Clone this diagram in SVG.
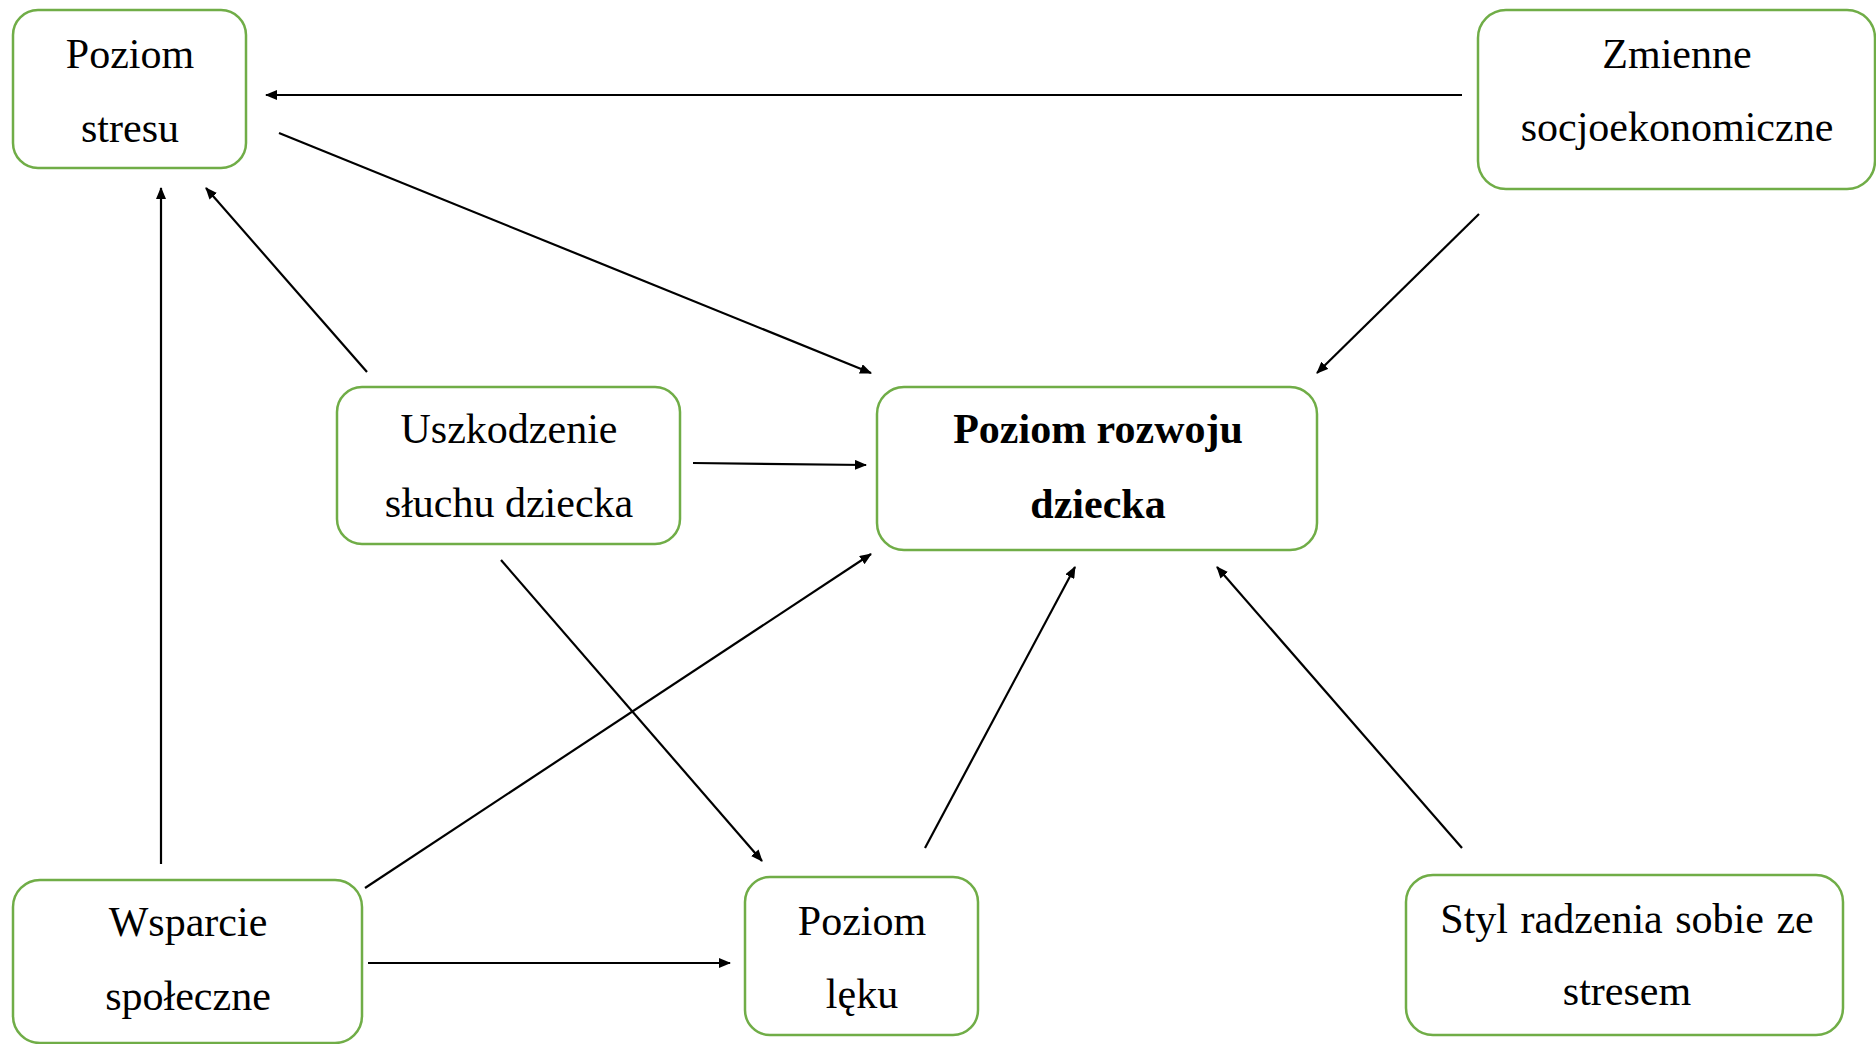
<svg xmlns="http://www.w3.org/2000/svg" width="1876" height="1044" viewBox="0 0 1876 1044">
<style>
.box{fill:#fff;stroke:#70AD47;stroke-width:2.5}
.t{font-family:"Liberation Serif","Times New Roman",serif;font-size:42px;fill:#000;text-anchor:middle}
.b{font-weight:bold}
.c{stroke:#000;stroke-width:2.2;fill:none;marker-end:url(#ah)}
</style>
<defs>
<marker id="ah" markerUnits="userSpaceOnUse" markerWidth="12" markerHeight="10" refX="11" refY="5" orient="auto">
<path d="M0,0 L12,5 L0,10 Z" fill="#000"/>
</marker>
</defs>
<rect width="1876" height="1044" fill="#fff"/>
<g id="connectors">
<line class="c" x1="1462" y1="95" x2="266" y2="95"/>
<line class="c" x1="279" y1="133" x2="871" y2="373"/>
<line class="c" x1="1479" y1="214" x2="1317" y2="373"/>
<line class="c" x1="367" y1="372" x2="206" y2="188"/>
<line class="c" x1="161" y1="864" x2="161" y2="188"/>
<line class="c" x1="693" y1="463" x2="866" y2="465"/>
<line class="c" x1="501" y1="560" x2="762" y2="861"/>
<line class="c" x1="365" y1="888" x2="871" y2="554"/>
<line class="c" x1="368" y1="963" x2="730" y2="963"/>
<line class="c" x1="925" y1="848" x2="1075" y2="567"/>
<line class="c" x1="1462" y1="848" x2="1217" y2="567"/>
</g>
<g id="poziom-stresu">
<rect class="box" x="13" y="10" width="233" height="158" rx="25"/>
<text class="t" x="130" y="68">Poziom</text>
<text class="t" x="130" y="142">stresu</text>
</g>
<g id="zmienne">
<rect class="box" x="1478" y="10" width="397" height="179" rx="28"/>
<text class="t" x="1677" y="68">Zmienne</text>
<text class="t" x="1677" y="141">socjoekonomiczne</text>
</g>
<g id="uszkodzenie">
<rect class="box" x="337" y="387" width="343" height="157" rx="25"/>
<text class="t" x="509" y="443">Uszkodzenie</text>
<text class="t" x="509" y="517">słuchu dziecka</text>
</g>
<g id="rozwoj">
<rect class="box" x="877" y="387" width="440" height="163" rx="27"/>
<text class="t b" x="1098" y="443">Poziom rozwoju</text>
<text class="t b" x="1098" y="518">dziecka</text>
</g>
<g id="wsparcie">
<rect class="box" x="13" y="880" width="349" height="163" rx="27"/>
<text class="t" x="188" y="936">Wsparcie</text>
<text class="t" x="188" y="1010">społeczne</text>
</g>
<g id="lek">
<rect class="box" x="745" y="877" width="233" height="158" rx="25"/>
<text class="t" x="862" y="935">Poziom</text>
<text class="t" x="862" y="1008">lęku</text>
</g>
<g id="styl">
<rect class="box" x="1406" y="875" width="437" height="160" rx="27"/>
<text class="t" x="1627" y="933" word-spacing="2">Styl radzenia sobie ze</text>
<text class="t" x="1627" y="1005">stresem</text>
</g>
</svg>
